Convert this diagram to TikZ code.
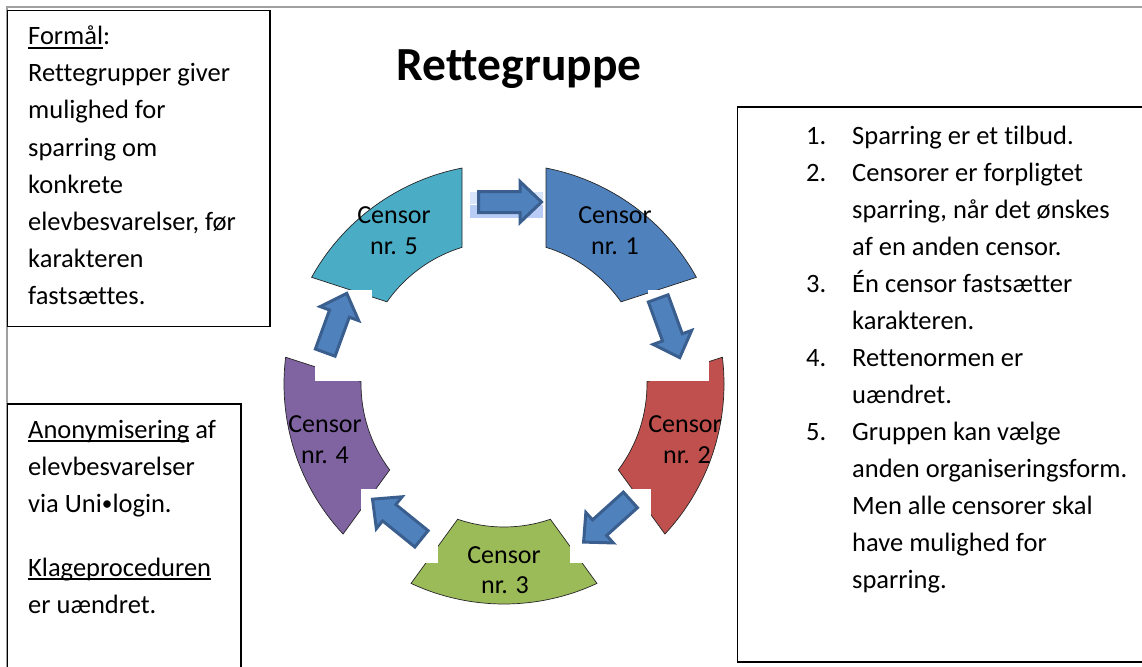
\documentclass[tikz,border=0pt]{standalone}
\usepackage{fontspec}
\setmainfont[Ligatures=NoCommon]{Carlito}
\definecolor{cA}{HTML}{4F81BD}
\definecolor{cB}{HTML}{C0504D}
\definecolor{cC}{HTML}{9BBB59}
\definecolor{cD}{HTML}{8064A2}
\definecolor{cE}{HTML}{4BACC6}
\definecolor{arrfill}{HTML}{4F81BD}
\definecolor{arrline}{HTML}{3A5F8E}
\definecolor{framegray}{HTML}{A0A0A0}
\definecolor{hlA}{RGB}{216,228,250}
\definecolor{hlB}{RGB}{184,204,245}
\newcommand\ulin[1]{\leavevmode\setbox0\hbox{#1}\rlap{\rule[-3.6pt]{\wd0}{1.4pt}}\box0\relax}
\newcommand\smallbul{\raisebox{1.5pt}{\scalebox{0.8}{•}}}
\newcommand\blockarrow[3]{%
  \begin{scope}[shift={(#1,-#2)}, rotate=#3]
    \draw[barrow] (-31.5,-10.5) -- (10,-10.5) -- (10,-20.5) -- (31.5,0) -- (10,20.5) -- (10,10.5) -- (-31.5,10.5) -- cycle;
  \end{scope}}
\begin{document}
\begin{tikzpicture}[x=1pt,y=1pt,
  frameline/.style={draw=framegray, line width=1.5pt},
  box/.style={draw=black, line width=1.5pt},
  segment/.style={draw=black!85, line width=0.7pt},
  barrow/.style={draw=arrline, fill=arrfill, line width=3pt, line join=miter},
  notch/.style={fill=white, draw=none},
  txt/.style={inner sep=0pt, anchor=base west, font=\fontsize{26.5}{37}\selectfont},
  lbl/.style={inner sep=0pt, anchor=base, font=\fontsize{26}{31}\selectfont},
  ttl/.style={inner sep=0pt, anchor=base, font=\fontsize{47.5}{52}\selectfont\bfseries}]
\useasboundingbox (0,0) rectangle (1142,-666);
\clip (0,0) rectangle (1142,-666);
\fill[white] (0,0) rectangle (1142,-666);

% page frame
\draw[frameline] (7,-700) -- (7,-7) -- (1150,-7);

% text boxes
\draw[box] (7.5,-10.5) rectangle (270,-326.5);
\draw[box] (7.5,-404) rectangle (241,-700);
\draw[box] (737.5,-107) rectangle (1160,-662);

% ring segments
\pgfmathsetmacro\aR{asin(42/220)}
\pgfmathsetmacro\ar{asin(42/143)}
\begin{scope}[shift={(504,-384)}]
  \foreach \k/\col in {1/cA,2/cB,3/cC,4/cD,5/cE} {
    \pgfmathsetmacro\ta{90-72*(\k-1)}
    \pgfmathsetmacro\tb{\ta-72}
    \draw[segment, fill=\col] ({\ta-\aR}:220)
      arc[start angle={\ta-\aR}, end angle={\tb+\aR}, radius=220]
      -- ({\tb+\ar}:143)
      arc[start angle={\tb+\ar}, end angle={\ta-\ar}, radius=143] -- cycle;
  }
\end{scope}

% white boxes behind the arrows
\fill[notch] (648,-290) rectangle (709,-381);
\fill[notch] (570,-489) rectangle (651,-563);
\fill[notch] (361,-489) rectangle (438,-563);
\fill[notch] (315,-290) rectangle (372,-381);
% highlighted box behind arrow 5 -> 1
\fill[hlA] (470,-192) rectangle (543,-203.5);
\fill[hlB] (470,-205) rectangle (543,-218);

% block arrows
\blockarrow{510}{202}{0}
\blockarrow{669}{328}{-70}
\blockarrow{607}{521}{-138}
\blockarrow{397}{519}{141}
\blockarrow{336}{323}{70}

% segment labels
\node[lbl] (c1a) at (615,-223) {Censor};
\node[lbl] (c1b) at (615,-254) {nr. 1};
\node[lbl] (c2a) at (685,-432) {Censor};
\node[lbl] (c2b) at (687,-463) {nr. 2};
\node[lbl] (c3a) at (504,-563) {Censor};
\node[lbl] (c3b) at (505,-593) {nr. 3};
\node[lbl] (c4a) at (325,-432) {Censor};
\node[lbl] (c4b) at (325,-463) {nr. 4};
\node[lbl] (c5a) at (394,-223) {Censor};
\node[lbl] (c5b) at (394,-254) {nr. 5};

% title
\node[ttl] (title) at (519,-81) {Rettegruppe};

% left top box
\foreach \t [count=\i] in {{\ulin{Formål}:}, Rettegrupper giver, mulighed for, sparring om, konkrete, {elevbesvarelser, før}, karakteren, fastsættes.}
  \node[txt] (f\i) at (28,{-45-37*(\i-1)}) {\t};

% left bottom box
\node[txt] (a1) at (28,-438) {\ulin{Anonymisering} af};
\node[txt] (a2) at (28,-475) {elevbesvarelser};
\node[txt] (a3) at (28,-512) {via Uni\smallbul login.};
\node[txt] (a4) at (28,-576) {\ulin{Klageproceduren}};
\node[txt] (a5) at (28,-613) {er uændret.};

% right box list
\foreach \n/\r in {1./0, 2./1, 3./4, 4./6, 5./8}
  \node[txt] (n\r) at (806,{-144-37*\r}) {\n};
\foreach \t [count=\i] in {Sparring er et tilbud., Censorer er forpligtet, {sparring, når det ønskes}, af en anden censor., Én censor fastsætter, karakteren., Rettenormen er, uændret., Gruppen kan vælge, anden organiseringsform., Men alle censorer skal, have mulighed for, sparring.}
  \node[txt] (r\i) at (852,{-144-37*(\i-1)}) {\t};
\end{tikzpicture}
\end{document}
